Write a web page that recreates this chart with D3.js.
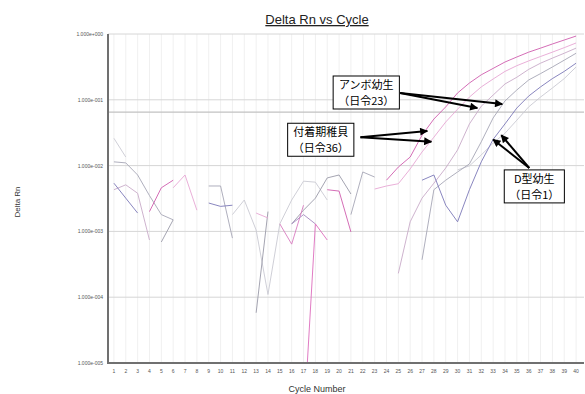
<!DOCTYPE html>
<html>
<head>
<meta charset="utf-8">
<script src="https://cdn.jsdelivr.net/npm/d3@7"></script>
<style>
  body { margin: 0; background: #fff; }
  svg { display: block; }
</style>
</head>
<body>
<svg id="chart" width="585" height="394"></svg>
<script>
// cycle numbers on the x axis
const cycles = d3.range(1, 41);
const yTicks = [1, 1e-1, 1e-2, 1e-3, 1e-4, 1e-5];
const yTickLabels = ["1.000e+000", "1.000e-001", "1.000e-002", "1.000e-003", "1.000e-004", "1.000e-005"];
const threshold = 0.065;

// Delta Rn per cycle, null where the value is not plotted (<= 0 on log scale)
const s1 = [null, null, null, 0.0020, 0.0046, 0.0060, null, null, null, null,
            null, null, null, null, null, null, null, null, 0.0043, 0.0041,
            0.00098, null, null, 0.0060, 0.0095, 0.0135, 0.029, 0.051, 0.078, 0.127,
            0.18, 0.24, 0.30, 0.375, 0.447, 0.53, 0.61, 0.705, 0.81, 0.93];
const s2 = [null, null, null, null, null, 0.0046, 0.0072, 0.0021, null, null,
            null, null, 0.0019, 0.0016, null, null, null, null, null, null,
            null, null, 0.0044, 0.0049, 0.0053, 0.0089, 0.0161, 0.027, 0.046, 0.072,
            0.110, 0.157, 0.207, 0.27, 0.33, 0.39, 0.455, 0.53, 0.62, 0.73];
const s3 = [null, null, null, null, null, null, null, null, null, null,
            null, null, null, null, 0.0013, 0.00064, 0.0025, null, null, null,
            null, null, null, null, null, null, null, null, null, null,
            null, null, null, null, null, null, null, null, null, null];
const s4 = [null, null, null, null, null, null, null, null, null, null,
            null, null, null, null, null, 0.0013, 0.0018, 0.0013, null, null,
            null, null, null, null, null, null, null, null, null, null,
            null, null, null, null, null, null, null, null, null, null];
const s5 = [null, null, null, null, null, null, null, null, null, null,
            null, null, null, null, null, null, 1e-6, 0.0013, 0.00074, null,
            null, null, null, null, null, null, null, null, null, null,
            null, null, null, null, null, null, null, null, null, null];
const s6 = [0.0043, 0.0051, 0.0038, 0.00074, null, null, null, null, null, null,
            null, null, null, null, null, null, null, null, null, null,
            null, null, null, null, 0.00023, 0.0014, 0.0032, 0.0054, 0.0092, 0.0173,
            0.043, 0.080, 0.118, 0.174, 0.22, 0.29, 0.36, 0.43, 0.51, 0.61];
const s7 = [0.0114, 0.011, 0.0072, 0.0035, 0.0018, 0.0015, null, null, 0.0049, 0.0049,
            0.00079, null, null, null, null, null, null, null, null, null,
            0.0018, 0.0080, 0.0067, null, null, null, 0.00037, 0.0043, 0.0060, 0.0080,
            0.0106, 0.023, 0.053, 0.096, 0.141, 0.20, 0.25, 0.315, 0.40, 0.51];
const s8 = [0.0054, 0.0032, 0.0019, null, null, null, null, null, 0.0027, 0.0024,
            0.0025, null, null, null, null, null, null, null, null, null,
            null, null, null, null, null, null, 0.0060, 0.0072, 0.0025, 0.0014,
            0.0043, 0.0114, 0.025, 0.043, 0.075, 0.114, 0.157, 0.21, 0.27, 0.36];
const s9 = [0.026, 0.0135, null, null, null, null, null, null, null, null,
            0.0018, 0.0030, 0.00105, 0.00011, 0.0013, 0.0030, 0.0058, 0.0056, 0.0030, null,
            null, null, null, null, null, null, null, null, null, 0.0086,
            0.0099, 0.0145, 0.022, 0.031, 0.049, 0.078, 0.110, 0.151, 0.21, 0.315];
const s10 = [null, null, null, null, 0.00069, 0.0015, null, null, null, null,
             null, null, 0.000058, 0.0020, null, 0.0013, 0.0021, 0.0032, 0.0065, 0.0072,
             0.0037, null, null, null, null, null, null, null, null, null,
             null, null, null, null, null, null, null, null, null, null];

const series = [
  { values: s9, color: "#cacad2" },
  { values: s10, color: "#9a9aa8" },
  { values: s7, color: "#a6a6b6" },
  { values: s6, color: "#c8aac8" },
  { values: s8, color: "#7c78b8" },
  { values: s3, color: "#d87cc0" },
  { values: s4, color: "#a488c0" },
  { values: s5, color: "#dc6cbc" },
  { values: s2, color: "#e6a6d4" },
  { values: s1, color: "#cf5cae" }
];

// annotations: label lines, box anchor (cycle, value of top-left), arrow start + tips
const notes = [
  { lines: ["アンボ幼生", "（日令23）"], box: [19.5, 0.23], from: [25.15, 0.127], tips: [[31.67, 0.075], [33.77, 0.086]] },
  { lines: ["付着期稚貝", "（日令36）"], box: [15.66, 0.044], from: [21.8, 0.027], tips: [[27.45, 0.0336], [27.79, 0.023]] },
  { lines: ["D型幼生", "（日令1）"], box: [33.94, 0.0086], from: [36.05, 0.0092], tips: [[33.0, 0.025], [33.69, 0.029]] }
];

const svg = d3.select("#chart");
const margin = { top: 34, right: 1, bottom: 31, left: 108 };
const W = 585, H = 394;

const x = d3.scaleLinear().domain([0.5, 40.5]).range([margin.left, W - margin.right - 2]);
const y = d3.scaleLog().domain([1e-5, 1]).range([H - margin.bottom, margin.top]);

const defs = svg.append("defs");
defs.append("clipPath").attr("id", "plot-clip")
  .append("rect")
  .attr("x", margin.left).attr("y", margin.top)
  .attr("width", W - margin.right - margin.left).attr("height", H - margin.bottom - margin.top);

// vertical grid
svg.append("g")
  .selectAll("line")
  .data(cycles)
  .enter().append("line")
  .attr("x1", d => x(d)).attr("x2", d => x(d))
  .attr("y1", margin.top).attr("y2", H - margin.bottom)
  .attr("stroke", "#f0f0f0").attr("stroke-width", 1);

// horizontal grid at decades
svg.append("g")
  .selectAll("line")
  .data(yTicks)
  .enter().append("line")
  .attr("x1", margin.left).attr("x2", W - margin.right)
  .attr("y1", d => y(d)).attr("y2", d => y(d))
  .attr("stroke", "#d6d6d6").attr("stroke-width", 1);

// threshold line
svg.append("line")
  .attr("x1", margin.left).attr("x2", W - margin.right)
  .attr("y1", y(threshold)).attr("y2", y(threshold))
  .attr("stroke", "#c2c2c2").attr("stroke-width", 1.2);

// curves
const line = d3.line()
  .defined(d => d != null)
  .x((d, i) => x(cycles[i]))
  .y(d => y(d));

svg.append("g")
  .attr("clip-path", "url(#plot-clip)")
  .selectAll("path")
  .data(series)
  .enter().append("path")
  .attr("d", d => line(d.values))
  .attr("fill", "none")
  .attr("stroke", d => d.color)
  .attr("stroke-width", 0.9);

// axes lines
svg.append("line")
  .attr("x1", margin.left).attr("x2", margin.left)
  .attr("y1", margin.top).attr("y2", H - margin.bottom + 1)
  .attr("stroke", "#707070").attr("stroke-width", 2);
svg.append("line")
  .attr("x1", margin.left - 1).attr("x2", W - margin.right)
  .attr("y1", H - margin.bottom).attr("y2", H - margin.bottom)
  .attr("stroke", "#707070").attr("stroke-width", 2);

// tick labels
svg.append("g")
  .selectAll("text")
  .data(yTicks)
  .enter().append("text")
  .attr("x", margin.left - 5)
  .attr("y", d => y(d) + 2)
  .attr("text-anchor", "end")
  .style("font-family", "Liberation Sans, Arial, sans-serif")
  .style("font-size", "5px")
  .attr("fill", "#555")
  .text((d, i) => yTickLabels[i]);

svg.append("g")
  .selectAll("text")
  .data(cycles)
  .enter().append("text")
  .attr("x", d => x(d))
  .attr("y", H - margin.bottom + 10)
  .attr("text-anchor", "middle")
  .style("font-family", "Liberation Sans, Arial, sans-serif")
  .style("font-size", "5px")
  .attr("fill", "#555")
  .text(d => d);

// titles
svg.append("text")
  .attr("x", 317).attr("y", 24)
  .attr("text-anchor", "middle")
  .style("font-family", "Liberation Sans, Arial, sans-serif")
  .style("font-size", "13px")
  .style("text-decoration", "underline")
  .attr("fill", "#222")
  .text("Delta Rn vs Cycle");

svg.append("text")
  .attr("x", 317).attr("y", 392)
  .attr("text-anchor", "middle")
  .style("font-family", "Liberation Sans, Arial, sans-serif")
  .style("font-size", "9px")
  .attr("fill", "#333")
  .text("Cycle Number");

svg.append("text")
  .attr("transform", "translate(20,202) rotate(-90)")
  .attr("text-anchor", "middle")
  .style("font-family", "Liberation Sans, Arial, sans-serif")
  .style("font-size", "8px")
  .attr("fill", "#333")
  .text("Delta Rn");

// arrows + labelled boxes
defs.append("marker")
  .attr("id", "arrowhead")
  .attr("viewBox", "0 0 10 10")
  .attr("refX", 9).attr("refY", 5)
  .attr("markerWidth", 5).attr("markerHeight", 4)
  .attr("orient", "auto")
  .append("path")
  .attr("d", "M0,0 L10,5 L0,10 Z")
  .attr("fill", "#000");

notes.forEach(n => {
  n.tips.forEach(t => {
    svg.append("line")
      .attr("x1", x(n.from[0])).attr("y1", y(n.from[1]))
      .attr("x2", x(t[0])).attr("y2", y(t[1]))
      .attr("stroke", "#000").attr("stroke-width", 2)
      .attr("marker-end", "url(#arrowhead)");
  });

  const g = svg.append("g").attr("transform", `translate(${x(n.box[0])},${y(n.box[1])})`);
  const rect = g.append("rect").attr("fill", "#fff").attr("stroke", "#000").attr("stroke-width", 1);
  const txt = g.selectAll("text")
    .data(n.lines)
    .enter().append("text")
    .attr("y", (d, i) => 13 + i * 16)
    .attr("text-anchor", "middle")
    .style("font-family", "Noto Sans CJK JP, sans-serif")
    .style("font-size", "11px")
    .attr("fill", "#000")
    .text(d => d);
  let wmax = 0;
  txt.each(function () { wmax = Math.max(wmax, this.getComputedTextLength()); });
  const bw = wmax + 10;
  txt.attr("x", bw / 2);
  rect.attr("x", 0).attr("y", 0).attr("width", bw).attr("height", 33);
});
</script>
</body>
</html>
